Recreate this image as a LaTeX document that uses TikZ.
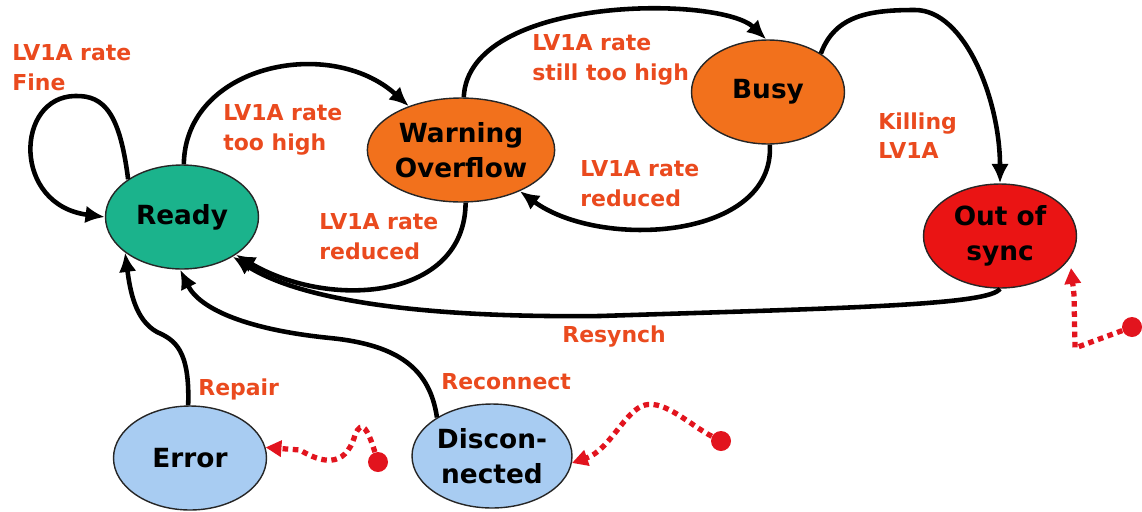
\documentclass[tikz,border=0pt]{standalone}
\usepackage{fontspec}
\setmainfont{DejaVu Sans}
\usepackage{xcolor}
\usepackage{tikz}
\usetikzlibrary{arrows.meta,shapes.geometric}
\definecolor{stgreen}{HTML}{1BB38C}
\definecolor{storange}{HTML}{F2711C}
\definecolor{stred}{HTML}{EA1414}
\definecolor{stblue}{HTML}{A8CCF2}
\definecolor{lblred}{HTML}{EA4A1E}
\definecolor{dotred}{HTML}{E2141E}

\tikzset{
  state/.style={ellipse,draw=black!85,line width=0.8pt,inner sep=0pt,
    minimum width=3.06cm,minimum height=2.08cm,align=center,
    font=\fontsize{15}{20}\selectfont\bfseries},
  trans/.style={line width=2.6pt,-{Latex[length=11pt,width=10pt]}},
  lbl/.style={anchor=north west,inner sep=0pt,align=left,text=lblred,
    font=\fontsize{12.5}{17}\selectfont\bfseries},
  spont/.style={dotred,line width=3pt,dash pattern=on 3.2pt off 2.6pt,
    -{Triangle[length=9pt,width=9pt]}},
  src/.style={circle,fill=dotred,inner sep=0pt,minimum size=0.4cm},
}

\begin{document}
\begin{tikzpicture}[x=0.02cm,y=-0.02cm]
  \useasboundingbox (0,0) rectangle (1142,511);

  % states
  \node[state,fill=stgreen] (ready) at (182,217) {Ready};
  \node[state,fill=storange] (warn) at (461,150) {Warning\\Overflow};
  \node[state,fill=storange] (busy) at (768,92) {Busy};
  \node[state,fill=stred] (oos) at (1000,236) {Out of\\sync};
  \node[state,fill=stblue] (err) at (190,458) {Error};
  \node[state,fill=stblue,minimum width=3.2cm] (disc) at (492,456) {Discon-\\nected};

  % transitions
  \draw[trans] (ready.145) .. controls (120,115) and (105,95) .. (75,96)
    .. controls (15,97) and (12,205) .. (ready.west);
  \draw[trans] (ready.88) .. controls (185,65) and (330,35) .. (warn.140);
  \draw[trans] (warn.87) .. controls (468,-5) and (720,-5) .. (busy.92);
  \draw[trans] (busy.272) .. controls (775,240) and (600,250) .. (warn.325);
  \draw[trans] (warn.275) .. controls (465,300) and (330,310) .. (ready.325);
  \draw[trans] (busy.36) .. controls (835,15) and (870,10) .. (915,10)
    .. controls (965,10) and (1000,100) .. (oos.north);
  \draw[trans] (oos.270) .. controls (990,305) and (850,308) .. (600,316)
    .. controls (420,318) and (300,300) .. (ready.322);
  \draw[trans] (err.92) .. controls (190,350) and (175,340) .. (157,332)
    .. controls (135,320) and (130,290) .. (ready.212);
  \draw[trans] (disc.145) .. controls (430,370) and (400,345) .. (330,338)
    .. controls (250,330) and (200,310) .. (ready.268);

  % labels
  \node[lbl] (lFine) at (12,44) {LV1A rate\\Fine};
  \node[lbl] (lHigh) at (223,104) {LV1A rate\\too high};
  \node[lbl] (lStill) at (532,34) {LV1A rate\\still too high};
  \node[lbl] (lRedB) at (580,160) {LV1A rate\\reduced};
  \node[lbl] (lRedW) at (319,213) {LV1A rate\\reduced};
  \node[lbl] (lKill) at (878,112) {Killing\\LV1A};
  \node[lbl] (lSync) at (562,325) {Resynch};
  \node[lbl] (lRep) at (198,378) {Repair};
  \node[lbl] (lRec) at (441,373) {Reconnect};

  % spontaneous events
  \node[src] (srcErr) at (378,462) {};
  \node[src] (srcDis) at (721,441) {};
  \node[src] (srcOos) at (1132,327) {};
  \coordinate (oosIn) at (1071,268);
  \draw[spont] (srcErr) .. controls (368,430) and (362,418) .. (355,435)
    .. controls (345,470) and (320,462) .. (300,450) -- (err.8);
  \draw[spont] (srcDis) .. controls (690,425) and (665,400) .. (645,405)
    .. controls (625,410) and (610,450) .. (disc.355);
  \draw[spont] (srcOos) -- (1075,348) -- (1074,295) -- (oosIn);
\end{tikzpicture}
\end{document}
